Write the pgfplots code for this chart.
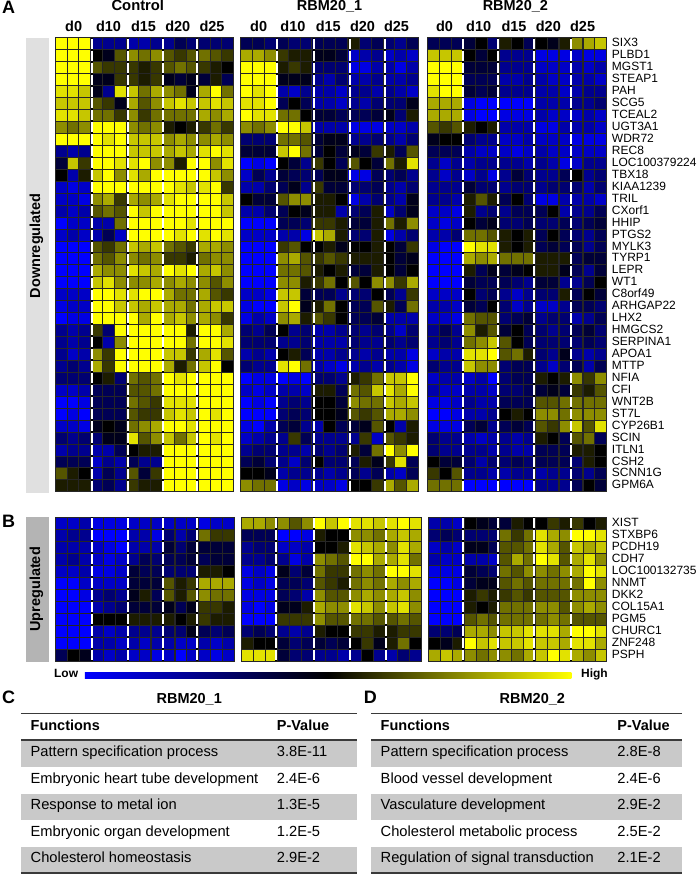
\documentclass[border=0pt]{standalone}
\usepackage{fontspec}
\setmainfont{Liberation Sans}
\usepackage{pgfplots}
\usepackage{pgfplotstable}
\pgfplotsset{compat=1.18}
\definecolor{rowgray}{HTML}{C9C9C9}
\definecolor{downgray}{HTML}{E0E0E0}
\definecolor{upgray}{HTML}{B4B4B4}
\definecolor{linegray}{HTML}{3A3A3A}
\pgfplotsset{pix/.style={
    scale only axis, width=699pt, height=875pt, at={(0pt,0pt)}, anchor=south west,
    xmin=0, xmax=699, ymin=0, ymax=875, y dir=reverse,
    hide axis, clip=false}}

% columns: gene, then Control, RBM20_1, RBM20_2 (d0 d10 d15 d20 d25, three each)
% values on a -9 (blue) .. 0 (black) .. 9 (yellow) scale
\pgfplotstableread[header=false]{
SIX3 9 9 9 -5 -5 -5 -6 -6 -5 -5 -3 -4 -4 -4 -4 -3 -3 -4 -3 -4 -4 -3 -3 -3 1 -4 -3 -4 -5 -3 -3 -3 -3 -2 0 -4 1 0 -3 0 -1 1 5 6 7
PLBD1 9 9 9 0 -1 3 5 4 5 3 2 3 4 3 2 6 6 5 2 1 1 -1 -1 -2 -7 -6 -5 -7 -6 -7 7 7 7 0 -2 0 -5 -5 -5 -8 -8 -8 -7 -8 -8
MGST1 9 9 9 3 2 2 2 1 2 3 4 3 2 1 0 9 9 9 1 2 1 -4 -4 -4 -8 -8 -6 -6 -8 -6 9 9 9 -2 -2 -2 -5 -5 -5 -7 -7 -7 -6 -7 -6
STEAP1 9 9 9 -1 -1 2 2 1 2 -1 -2 -1 -2 1 -3 9 9 9 -1 -1 -1 -5 -6 -4 -6 -6 -5 -6 -6 -5 9 9 9 -3 -3 -3 -6 -6 -5 -6 -7 -7 -6 -6 -7
PAH 8 8 7 -1 -5 8 7 4 6 5 4 -1 6 9 4 9 8 9 -6 -7 -5 -6 -6 -7 -5 -5 -6 -5 -6 -7 8 9 9 -2 -3 -2 -5 -5 -5 -6 -6 -7 -6 -5 -5
SCG5 7 7 7 3 2 -1 6 3 5 7 8 7 7 8 7 8 8 9 -3 0 -3 -6 -6 -7 -5 -6 -4 -4 -4 -1 6 6 6 -8 -9 -9 -9 -9 -9 -6 -6 -6 -5 -5 -4
TCEAL2 8 8 7 4 4 2 5 2 4 4 4 4 6 5 6 9 8 8 4 4 0 -2 -2 -3 -3 -3 -2 -1 -4 1 6 6 6 -8 -9 -9 -8 -8 -8 -6 -7 -7 -7 -6 -7
UGT3A1 5 4 5 9 9 9 5 4 5 1 0 1 2 4 2 5 4 5 9 9 7 -6 -6 -6 -8 -8 -8 -7 -7 -6 3 2 3 1 0 1 -6 -6 -6 -8 -8 -6 -6 -6 -7
WDR72 9 9 9 9 8 9 7 7 7 5 6 5 5 6 5 -4 -4 -4 4 4 3 -2 -1 -1 -5 -5 -4 -5 -6 -4 -1 0 0 -4 -5 -5 -7 -7 -6 -7 -7 -7 -8 -8 -8
REC8 -5 -6 -5 9 9 9 7 7 7 6 7 6 8 9 8 -2 -2 -2 7 9 4 -2 0 -2 -1 -2 2 1 -3 3 -3 -3 -3 -6 -7 -7 -7 -8 -7 -6 -7 -7 -7 -7 -7
LOC100379224 -2 7 2 9 9 8 8 9 5 5 1 9 9 5 8 -9 -8 -9 0 -2 -5 2 0 -3 3 0 -2 4 1 8 -5 -7 -5 -6 -5 -5 -5 -5 -6 -5 -6 -8 -7 -5 -5
TBX18 0 -6 1 7 9 5 8 6 9 9 9 9 9 7 5 -7 -3 -5 -2 -3 -4 -3 -1 -1 -8 -8 -3 -4 -3 -5 -5 -7 -5 -7 -5 -8 -5 -2 -4 -5 -5 -3 0 -5 -4
KIAA1239 -7 -8 -7 9 9 9 9 9 9 9 8 7 8 9 2 -6 -6 -4 -3 -1 -5 2 -2 -2 -4 -4 -3 -5 -6 -4 -5 -5 -5 -2 -4 -4 -5 -4 -4 -5 -4 -4 -4 -6 -4
TRIL -7 -7 -8 5 6 2 6 5 6 8 9 9 9 9 7 0 -2 -2 3 5 5 1 1 0 -8 -6 -4 -5 -6 -1 -5 -5 -6 1 3 1 -3 0 -4 -8 -8 -6 -6 -6 -7
CXorf1 -6 -7 -6 3 4 3 9 7 9 9 9 9 9 9 7 -6 -6 -4 -3 0 -1 1 1 -6 -4 -3 1 -7 -4 -1 -7 -7 -8 1 -5 -4 -5 -3 -3 -3 0 -6 -5 -5 -3
HHIP -9 -7 -7 -6 -6 4 9 9 9 9 9 8 9 9 9 -9 -9 -9 -3 -3 -4 2 2 1 -2 -2 1 4 1 5 -7 -8 -7 0 -2 -1 -4 -4 -3 -4 -4 -3 -4 -3 -2
PTGS2 -7 -6 -7 -6 -3 -7 9 9 9 9 8 9 8 9 8 -7 -7 -7 -6 -6 -8 7 6 1 -4 -4 1 -8 -6 -4 -6 -6 -4 4 4 3 1 0 1 -3 0 -3 -4 -5 -3
MYLK3 -9 -9 -9 3 2 4 7 6 7 4 3 2 6 6 5 -9 -9 -9 2 3 0 0 1 -1 0 0 1 0 -2 2 -8 -9 -9 9 8 8 1 0 1 -3 -2 -3 -3 -5 -3
TYRP1 -9 -9 -9 4 3 5 5 4 5 2 2 1 4 5 5 -9 -9 -9 5 6 3 2 3 2 1 1 1 0 -2 -1 -9 -9 -9 6 5 6 4 4 4 1 1 1 -3 -2 -2
LEPR -9 -9 -9 6 5 5 8 7 6 9 8 9 6 7 5 -9 -9 -9 4 4 3 1 0 1 -2 -2 1 0 -2 0 -9 -9 -9 1 -3 -1 -2 -1 0 1 1 -1 -3 -5 -2
WT1 -9 -9 -9 7 8 5 5 5 6 5 6 5 5 3 5 -9 -9 -9 5 5 1 2 4 0 3 0 5 5 2 6 -9 -9 -9 -2 -3 -3 -3 -4 -5 -2 -2 -5 -5 -3 0
C8orf49 -7 -7 -7 9 9 8 8 9 9 6 4 4 6 3 2 -7 -7 -8 7 7 -2 -3 -3 -5 -4 -4 0 -3 -5 2 -7 -7 -7 0 -4 -3 -5 -7 -5 -4 -4 1 -3 0 -2
ARHGAP22 -8 -7 -7 9 9 7 7 6 7 6 6 4 6 7 7 -8 -9 -9 7 9 -1 1 4 0 -3 -3 3 1 -3 4 -6 -6 -7 -2 -3 0 -4 -7 -5 -7 -7 -5 -3 -3 -4
LHX2 -9 -8 -8 9 9 9 9 6 9 6 7 5 6 5 2 -8 -6 -7 5 6 1 3 2 0 -3 -3 -2 -6 -6 -6 -7 -7 -8 4 3 3 -4 -3 -2 -5 -4 -4 -6 -5 -3
HMGCS2 -5 -6 -5 2 -4 9 9 9 9 9 9 1 9 9 6 -4 -5 -3 0 -5 -4 -6 -6 -5 -4 -5 -4 -5 -7 -4 -5 -3 -5 5 1 3 -2 0 -3 -4 -5 -4 -3 -2 -4
SERPINA1 -5 -6 -5 0 -6 5 9 9 9 9 9 4 9 9 8 -4 -4 -4 -5 -5 -4 -6 -6 -6 -4 -5 -5 -4 -5 -4 -5 -4 -5 4 5 7 3 0 -3 -4 -4 -4 -4 -3 -4
APOA1 -5 -7 -6 5 2 9 9 9 9 7 7 2 6 8 3 -6 -5 -6 0 1 -3 -6 -6 -5 -5 -6 -5 -6 -6 -8 -7 -6 -6 8 8 9 3 4 1 -4 -5 -1 -5 -6 -5
MTTP -5 -4 -5 6 2 9 9 9 9 6 1 4 7 9 0 -4 -5 -5 8 9 4 -6 -7 -8 -6 -5 -6 -5 -6 -8 -4 -5 -5 7 5 5 -4 -3 -3 -5 -7 -4 -3 -6 -3
NFIA -4 -4 -4 0 1 -4 4 3 4 9 8 9 9 9 9 -9 -8 -8 -9 -8 -9 -4 -4 -5 1 2 4 7 7 9 -7 -6 -6 -7 -6 -9 -4 -3 -3 1 0 1 5 2 5
CFI -7 -7 -6 -3 -3 -3 3 3 4 9 9 9 9 9 9 -7 -8 -7 -6 -6 -7 1 1 -3 4 3 7 8 6 9 -6 -7 -7 -6 -6 -7 -4 -4 -3 -2 -1 -2 2 1 3
WNT2B -9 -9 -8 -3 -3 -3 4 3 2 8 8 8 9 9 9 -9 -8 -9 -5 -4 -5 0 0 -2 5 4 4 7 6 7 -8 -8 -7 -5 -6 -6 -3 -3 -3 3 3 4 4 4 4
ST7L -9 -8 -9 -3 -3 -3 3 2 2 7 8 7 9 8 9 -9 -9 -9 -4 -3 -4 0 0 -1 3 2 3 6 6 5 -9 -9 -8 -6 -6 -5 0 1 0 5 5 4 5 5 5
CYP26B1 -7 -7 -8 -1 0 -1 4 5 6 9 9 8 9 9 9 -8 -9 -6 -3 -2 -5 -6 0 -3 -2 -1 3 0 -6 1 -8 -8 -8 -3 -2 -5 -3 -2 -3 3 2 5 7 3 8
SCIN -4 -5 -4 -4 -1 -1 8 3 5 7 4 7 9 8 9 -7 -6 -5 -5 2 -3 -5 -5 -5 -5 2 -7 3 2 1 -4 -5 -5 -6 -7 -6 -5 -6 -5 1 0 -3 3 4 -3
ITLN1 -6 -5 -5 -6 -6 -3 0 1 1 9 9 9 9 9 9 -5 -4 -4 -5 -5 -6 -4 -5 -4 1 -2 4 9 5 9 -4 -5 -5 -5 -5 -6 -5 -6 -6 -3 -3 -3 1 1 0
CSH2 -3 -3 -3 -7 -5 -6 -3 -5 -5 9 9 9 9 9 9 -3 -2 -4 -5 -7 -4 0 -4 -4 -3 1 -1 2 8 -3 0 -2 -2 -4 -6 -4 -4 -3 -4 -3 -3 -3 -4 1 0
SCNN1G 3 1 0 -6 -3 -5 3 -2 2 9 9 9 9 9 9 0 0 -1 -6 -5 -5 -5 -6 -5 -3 -5 -3 -6 -7 -3 2 0 3 -5 -5 -6 -6 -5 -5 -6 -5 -5 -4 -5 -3
GPM6A 1 1 1 -4 -3 -5 2 1 1 9 9 9 9 9 9 5 4 4 -8 -7 -8 -7 -7 -8 0 0 2 6 3 6 4 4 4 -9 -9 -9 -9 -9 -9 -5 -5 -5 -3 0 -2
}\downtable

\pgfplotstableread[header=false]{
XIST -7 -7 -6 -8 -8 -8 -7 -7 -7 -7 -7 -7 -8 -7 -7 6 6 5 5 3 5 9 7 9 8 8 7 8 9 8 -6 -6 -7 0 -1 -2 -2 1 0 0 2 1 2 0 1
STXBP6 -6 -5 -5 -9 -9 -9 -6 -6 -8 -4 -6 -4 4 2 2 -3 -3 -3 -9 -9 -8 1 0 0 5 5 4 6 7 6 -4 -3 -4 -4 -4 -4 4 2 4 8 6 5 9 9 8
PCDH19 -6 -6 -6 -7 -8 -9 -6 -6 -6 -2 -4 -2 -2 -2 -2 -5 -4 -4 -7 -7 -6 0 0 1 8 7 6 5 8 6 -7 -6 -7 -1 -1 -3 3 3 4 8 6 3 7 6 7
CDH7 -6 -5 -6 -7 -8 -7 -5 -3 -4 -3 -3 -2 -3 -2 -2 -5 -5 -4 -5 -8 -6 5 4 3 9 9 6 6 8 4 -6 -7 -7 -6 -6 -7 3 6 4 9 8 3 6 8 5
LOC100132735 -7 -7 -6 -8 -8 -7 -2 -3 -3 -4 -4 -4 1 1 0 -8 -7 -8 -1 -4 -2 4 2 2 4 5 4 9 9 8 -8 -8 -8 -2 -3 -4 4 3 5 5 4 5 6 9 8
NNMT -9 -9 -7 -7 -7 -7 -2 -2 -2 3 1 2 6 6 6 -8 -7 -8 -3 -3 -4 3 2 1 4 5 4 6 5 6 -9 -9 -8 -2 -1 -1 3 4 3 4 4 4 4 9 5
DKK2 -9 -9 -8 -5 -4 -5 -1 1 -3 3 1 3 5 4 4 -8 -8 -8 -3 -4 -6 5 3 3 5 6 5 6 7 5 -9 -9 -9 1 2 1 2 3 2 3 3 3 5 5 5
COL15A1 -9 -9 -9 -6 -5 -4 -2 -2 -2 -1 -3 -1 2 2 1 -8 -9 -8 -1 -1 1 6 5 5 8 7 5 7 8 5 -9 -9 -9 1 0 1 4 4 4 5 5 3 5 6 5
PGM5 -9 -9 -9 0 0 0 1 1 1 1 0 1 2 1 1 -9 -9 -9 2 2 2 5 3 3 4 4 3 3 4 3 -9 -9 -9 3 4 3 4 4 4 4 5 4 3 3 3
CHURC1 -9 -9 -9 -6 -7 -6 -5 -5 -5 -4 -4 -1 -3 -4 -3 -4 -3 -4 -5 -6 -5 1 0 0 2 2 1 1 2 2 -4 -4 -3 6 6 5 7 7 8 8 8 6 9 9 8
ZNF248 -9 -9 -9 -6 -6 -7 -6 -7 -6 -6 -7 -7 -6 -7 -6 1 0 0 -2 -4 -3 -2 -3 -2 0 2 -1 1 4 0 0 -1 1 9 7 8 7 7 8 7 7 6 8 8 6
PSPH -3 0 -1 -6 -7 -6 -7 -7 -8 -7 -9 -7 -7 -8 -7 8 8 8 -2 -4 -4 -5 -5 -6 -5 0 -5 -6 -4 -5 6 7 6 5 4 5 5 4 6 7 9 8 6 5 7
}\uptable

% one block of 15 columns, starting at table column #2
\newcommand{\heat}[6]{%
  \pgfmathtruncatemacro{\lastcol}{#2+14}
  \pgfplotsinvokeforeach{#2,...,\lastcol}{
    \addplot[scatter, only marks, mark=square*, mark size=5.98pt,
      mark options={line width=0.6pt},
      scatter/use mapped color={draw=black!85!white, fill=mapped color},
      point meta=explicit]
      table[x expr={#5+#6*(##1-#2+0.5)}, y expr={#3+#4*(\coordindex+0.5)}, meta index=##1] {#1};
  }
}
% dashed white separators
\newcommand{\seps}[3]{%
  \pgfplotsinvokeforeach{#1}{
    \draw[black, line width=2pt] (axis cs:##1,#2) -- (axis cs:##1,#3);
    \draw[white, line width=2pt, dash pattern=on 10pt off 1.96pt] (axis cs:##1,#2+1) -- (axis cs:##1,#3);
  }
}
% gene names at the right of a block
\newcommand{\genes}[3]{%
  \addplot[only marks, mark=none, point meta=explicit symbolic, nodes near coords,
    every node near coord/.style={anchor=mid west, inner sep=0pt, font=\fontsize{12}{12}\selectfont}]
    table[x expr=612.5, y expr={#2+#3*(\coordindex+0.5)}, meta index=0] {#1};
}
\newcommand{\lab}[4][mid]{\node[anchor=#1, inner sep=0pt] at (axis cs:#2,#3) {#4};}
\newcommand{\hd}{\fontsize{14.5}{14.5}\selectfont\bfseries}
\newcommand{\bd}{\fontsize{14.7}{14.7}\selectfont}
\newcommand{\hf}{\fontsize{14.5}{14.5}\selectfont\bfseries}

\begin{document}
\begin{tikzpicture}
\begin{axis}[pix,
    colormap={heatbyk}{rgb255=(0,0,255) rgb255=(0,0,0) rgb255=(255,255,0)},
    point meta min=-9, point meta max=9,
  ]
  \path (axis cs:0,0) rectangle (axis cs:699,875);

  % side bars
  \fill[downgray] (axis cs:26.3,36.7) rectangle (axis cs:49.3,493);
  \fill[upgray] (axis cs:26.3,516.7) rectangle (axis cs:49.3,662);

  % panel A
  \heat{\downtable}{1}{36.7}{11.96}{55}{11.93}
  \heat{\downtable}{16}{36.7}{11.96}{241}{11.87}
  \heat{\downtable}{31}{36.7}{11.96}{427.5}{12.0}
  \genes{\downtable}{37.3}{11.96}

  % panel B
  \heat{\uptable}{1}{516.7}{12.03}{55}{12.0}
  \heat{\uptable}{16}{516.7}{12.03}{242}{11.97}
  \heat{\uptable}{31}{516.7}{12.03}{429}{11.9}
  \genes{\uptable}{517.3}{12.03}
\end{axis}
% second axis on top: separators, colour bar, text and tables
\begin{axis}[pix]
  \seps{92.3,127.7,163,197.3,277,314,350,385.3,464,498.7,534.7,572}{36.7}{491}
  \seps{92.3,127.7,163,197.3,276.7,314,350,386,463.7,499,535,571.7}{516.7}{661}

  % colour bar
  \shade[left color=blue, right color=yellow, middle color=black]
    (axis cs:85,672) rectangle (axis cs:572,678);
  \lab[mid west]{54}{675}{\fontsize{12}{12}\selectfont\bfseries Low}
  \lab[mid west]{581.7}{675}{\fontsize{12}{12}\selectfont\bfseries High}

  % headers
  \lab{138}{7}{\fontsize{14.8}{14.8}\selectfont\bfseries Control}
  \lab{330}{7}{\hd RBM20\_1}
  \lab{516}{7}{\hd RBM20\_2}
  \lab{73.7}{27.7}{\hd d0}
  \lab{108.7}{27.7}{\hd d10}
  \lab{143.7}{27.7}{\hd d15}
  \lab{178}{27.7}{\hd d20}
  \lab{212.3}{27.7}{\hd d25}
  \lab{259}{27.7}{\hd d0}
  \lab{293.3}{27.7}{\hd d10}
  \lab{328.7}{27.7}{\hd d15}
  \lab{363}{27.7}{\hd d20}
  \lab{397}{27.7}{\hd d25}
  \lab{445}{27.7}{\hd d0}
  \lab{479.3}{27.7}{\hd d10}
  \lab{514.7}{27.7}{\hd d15}
  \lab{549}{27.7}{\hd d20}
  \lab{583.3}{27.7}{\hd d25}
  \node[rotate=90, inner sep=0pt] at (axis cs:36.5,245) {\hf Downregulated};
  \node[rotate=90, inner sep=0pt] at (axis cs:36.5,589) {\hf Upregulated};

  % panel letters
  \lab[mid west]{2}{10}{\fontsize{18}{18}\selectfont\bfseries A}
  \lab[mid west]{2}{524}{\fontsize{18}{18}\selectfont\bfseries B}
  \lab[mid west]{2}{701}{\fontsize{18}{18}\selectfont\bfseries C}
  \lab[mid west]{364}{701}{\fontsize{18}{18}\selectfont\bfseries D}

  % tables C and D
  \fill[rowgray] (axis cs:21,741) rectangle (axis cs:357,767);
  \fill[rowgray] (axis cs:21,794) rectangle (axis cs:357,820);
  \fill[rowgray] (axis cs:21,847) rectangle (axis cs:357,873);
  \fill[rowgray] (axis cs:371.5,741) rectangle (axis cs:683,767);
  \fill[rowgray] (axis cs:371.5,794) rectangle (axis cs:683,820);
  \fill[rowgray] (axis cs:371.5,847) rectangle (axis cs:683,873);
  \draw[linegray, line width=1.2pt] (axis cs:21,713) -- (axis cs:357,713);
  \draw[linegray, line width=1.8pt] (axis cs:21,740) -- (axis cs:357,740);
  \draw[linegray, line width=1.2pt] (axis cs:21,873) -- (axis cs:357,873);
  \draw[linegray, line width=1.2pt] (axis cs:371.5,713) -- (axis cs:683,713);
  \draw[linegray, line width=1.8pt] (axis cs:371.5,740) -- (axis cs:683,740);
  \draw[linegray, line width=1.2pt] (axis cs:371.5,873) -- (axis cs:683,873);

  \lab{189.5}{701}{\hd RBM20\_1}
  \lab{533}{701}{\hd RBM20\_2}
  \lab[mid west]{30.5}{727.5}{\hf Functions}
  \lab[mid west]{277}{727.5}{\hf P-Value}
  \lab[mid west]{381}{727.5}{\hf Functions}
  \lab[mid west]{618}{727.5}{\hf P-Value}

  \lab[mid west]{30.5}{754}{\bd Pattern specification process}
  \lab[mid west]{30.5}{780.5}{\bd Embryonic heart tube development}
  \lab[mid west]{30.5}{807}{\bd Response to metal ion}
  \lab[mid west]{30.5}{833.5}{\bd Embryonic organ development}
  \lab[mid west]{30.5}{860}{\bd Cholesterol homeostasis}
  \lab[mid west]{277}{754}{\bd 3.8E-11}
  \lab[mid west]{277}{780.5}{\bd 2.4E-6}
  \lab[mid west]{277}{807}{\bd 1.3E-5}
  \lab[mid west]{277}{833.5}{\bd 1.2E-5}
  \lab[mid west]{277}{860}{\bd 2.9E-2}

  \lab[mid west]{381}{754}{\bd Pattern specification process}
  \lab[mid west]{381}{780.5}{\bd Blood vessel development}
  \lab[mid west]{381}{807}{\bd Vasculature development}
  \lab[mid west]{381}{833.5}{\bd Cholesterol metabolic process}
  \lab[mid west]{381}{860}{\bd Regulation of signal transduction}
  \lab[mid west]{618}{754}{\bd 2.8E-8}
  \lab[mid west]{618}{780.5}{\bd 2.4E-6}
  \lab[mid west]{618}{807}{\bd 2.9E-2}
  \lab[mid west]{618}{833.5}{\bd 2.5E-2}
  \lab[mid west]{618}{860}{\bd 2.1E-2}
\end{axis}
\end{tikzpicture}
\end{document}
